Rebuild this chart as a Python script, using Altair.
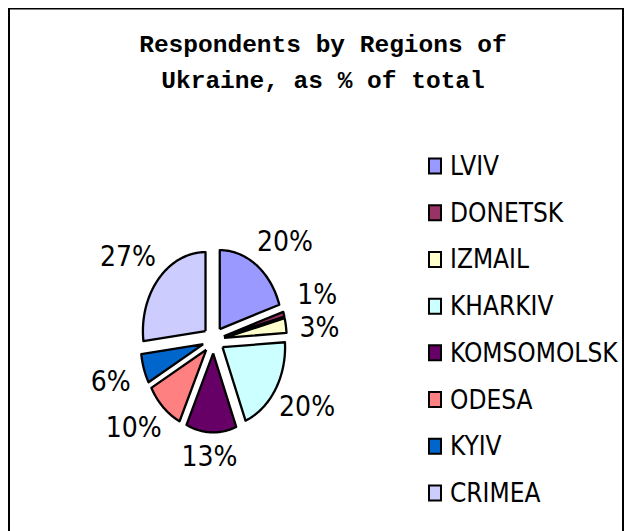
import altair as alt
import pandas as pd

# ---- data ----
regions = ["LVIV", "DONETSK", "IZMAIL", "KHARKIV", "KOMSOMOLSK", "ODESA", "KYIV", "CRIMEA"]
values = [20, 1, 3, 20, 13, 10, 6, 27]
colors = ["#9999FF", "#993366", "#FFFFCC", "#CCFFFF", "#660066", "#FF8080", "#0066CC", "#CCCCFF"]
title_lines = ["Respondents by Regions of", "Ukraine, as % of total"]

df = pd.DataFrame({"region": regions, "value": values, "idx": list(range(len(regions)))})

# ---- layout (svg coordinates) ----
W, H = 616, 523
cx, cy = 205.5, 332.0
rx, ry = 62.6, 79.0
EXPL = 0.17
N = 60
GAP = 0.42  # minimum vertical label separation (unit coords)
SANS = "Liberation Sans Narrow, Arial Narrow, DejaVu Sans Condensed, Liberation Sans, Arial, sans-serif"

XS = alt.Scale(domain=[-1, 1], range=[cx - rx, cx + rx], nice=False, zero=False)
YS = alt.Scale(domain=[-1, 1], range=[cy + ry, cy - ry], nice=False, zero=False)
CS = alt.Scale(domain=regions, range=colors)

base = (
    alt.Chart(df)
    .transform_joinaggregate(total="sum(value)")
    .transform_window(cum="sum(value)", sort=[alt.SortField("idx", order="ascending")])
    .transform_calculate(a0="2*PI*(datum.cum-datum.value)/datum.total")
    .transform_calculate(a1="2*PI*datum.cum/datum.total")
    .transform_calculate(mid="(datum.a0+datum.a1)/2")
)

pie = (
    base.transform_calculate(pts=f"sequence(0,{N + 3})")
    .transform_flatten(["pts"], as_=["k"])
    .transform_calculate(t=f"clamp((datum.k-1)/{N},0,1)")
    .transform_calculate(ang="datum.a0+(datum.a1-datum.a0)*datum.t")
    .transform_calculate(apex=f"datum.k==0 || datum.k=={N + 2}")
    .transform_calculate(px=f"{EXPL}*sin(datum.mid)+(datum.apex?0:sin(datum.ang))")
    .transform_calculate(py=f"{EXPL}*cos(datum.mid)+(datum.apex?0:cos(datum.ang))")
    .mark_line(filled=True, stroke="black", strokeWidth=2.3, strokeJoin="round", fillOpacity=1)
    .encode(
        x=alt.X("px:Q", scale=XS, axis=None),
        y=alt.Y("py:Q", scale=YS, axis=None),
        color=alt.Color("region:N", scale=CS, legend=None),
        order=alt.Order("k:Q"),
        detail="region:N",
    )
)

labels = (
    base.transform_calculate(lx="1.38*sin(datum.mid)+0.33*clamp(2*sin(datum.mid),-1,1)")
    .transform_calculate(ly0="1.35*cos(datum.mid)+0.14*clamp(3*cos(datum.mid),-1,1)")
    .transform_calculate(lab="datum.value + '%'")
    .transform_window(
        prev_y="lag(ly0)", next_y="lead(ly0)", prev_x="lag(lx)", next_x="lead(lx)",
        sort=[alt.SortField("idx", order="ascending")],
        frame=[None, None],
    )
    .transform_calculate(
        pushp=f"(isValid(datum.prev_y) && abs(datum.prev_x-datum.lx)<0.8 && abs(datum.prev_y-datum.ly0)<{GAP})"
        f" ? (datum.ly0>=datum.prev_y?1:-1)*({GAP}-abs(datum.prev_y-datum.ly0))*0.7 : 0"
    )
    .transform_calculate(
        pushn=f"(isValid(datum.next_y) && abs(datum.next_x-datum.lx)<0.8 && abs(datum.next_y-datum.ly0)<{GAP})"
        f" ? (datum.ly0>datum.next_y?1:-1)*({GAP}-abs(datum.next_y-datum.ly0))*0.3 : 0"
    )
    .transform_calculate(ly="datum.ly0+datum.pushp+datum.pushn")
    .mark_text(font=SANS, fontSize=28, color="black", align="center", baseline="middle")
    .encode(
        x=alt.X("lx:Q", scale=XS, axis=None),
        y=alt.Y("ly:Q", scale=YS, axis=None),
        text="lab:N",
    )
)

LEGY = alt.Scale(type="point", domain=regions, range=[158, 485], padding=0)

leg_sq = (
    alt.Chart(df)
    .mark_point(
        shape="M-0.8,-1L0.8,-1L0.8,1L-0.8,1Z",
        filled=True,
        size=225,
        stroke="black",
        strokeWidth=2,
        opacity=1,
    )
    .encode(
        x=alt.value(427),
        y=alt.Y("region:N", scale=LEGY, axis=None, sort=regions),
        color=alt.Color("region:N", scale=CS, legend=None),
    )
)

leg_txt = (
    alt.Chart(df)
    .mark_text(font=SANS, fontSize=26, color="black", align="left", baseline="middle", dy=1)
    .encode(
        x=alt.value(442),
        y=alt.Y("region:N", scale=LEGY, axis=None, sort=regions),
        text="region:N",
    )
)

title = (
    alt.Chart(pd.DataFrame({"line": title_lines}))
    .mark_text(
        font="Liberation Mono, Courier New, monospace",
        fontSize=24.5,
        fontWeight="bold",
        color="black",
        align="center",
        baseline="alphabetic",
    )
    .encode(
        x=alt.value(315),
        y=alt.Y("line:N", scale=alt.Scale(type="point", domain=title_lines, range=[44, 80], padding=0), axis=None),
        text="line:N",
    )
)

border = (
    alt.Chart(pd.DataFrame({"a": [0]}))
    .mark_rect(fillOpacity=0, stroke="black", strokeWidth=2)
    .encode(x=alt.value(1), x2=alt.value(615), y=alt.value(0.5), y2=alt.value(600))
)

chart = (
    alt.layer(border, title, pie, labels, leg_sq, leg_txt)
    .resolve_scale(x="independent", y="independent", color="independent")
    .properties(width=W, height=H, padding=0, autosize=alt.AutoSizeParams(type="none"))
    .configure_view(stroke=None)
)

chart.save("out.html", embed_options={"renderer": "svg", "actions": False})
